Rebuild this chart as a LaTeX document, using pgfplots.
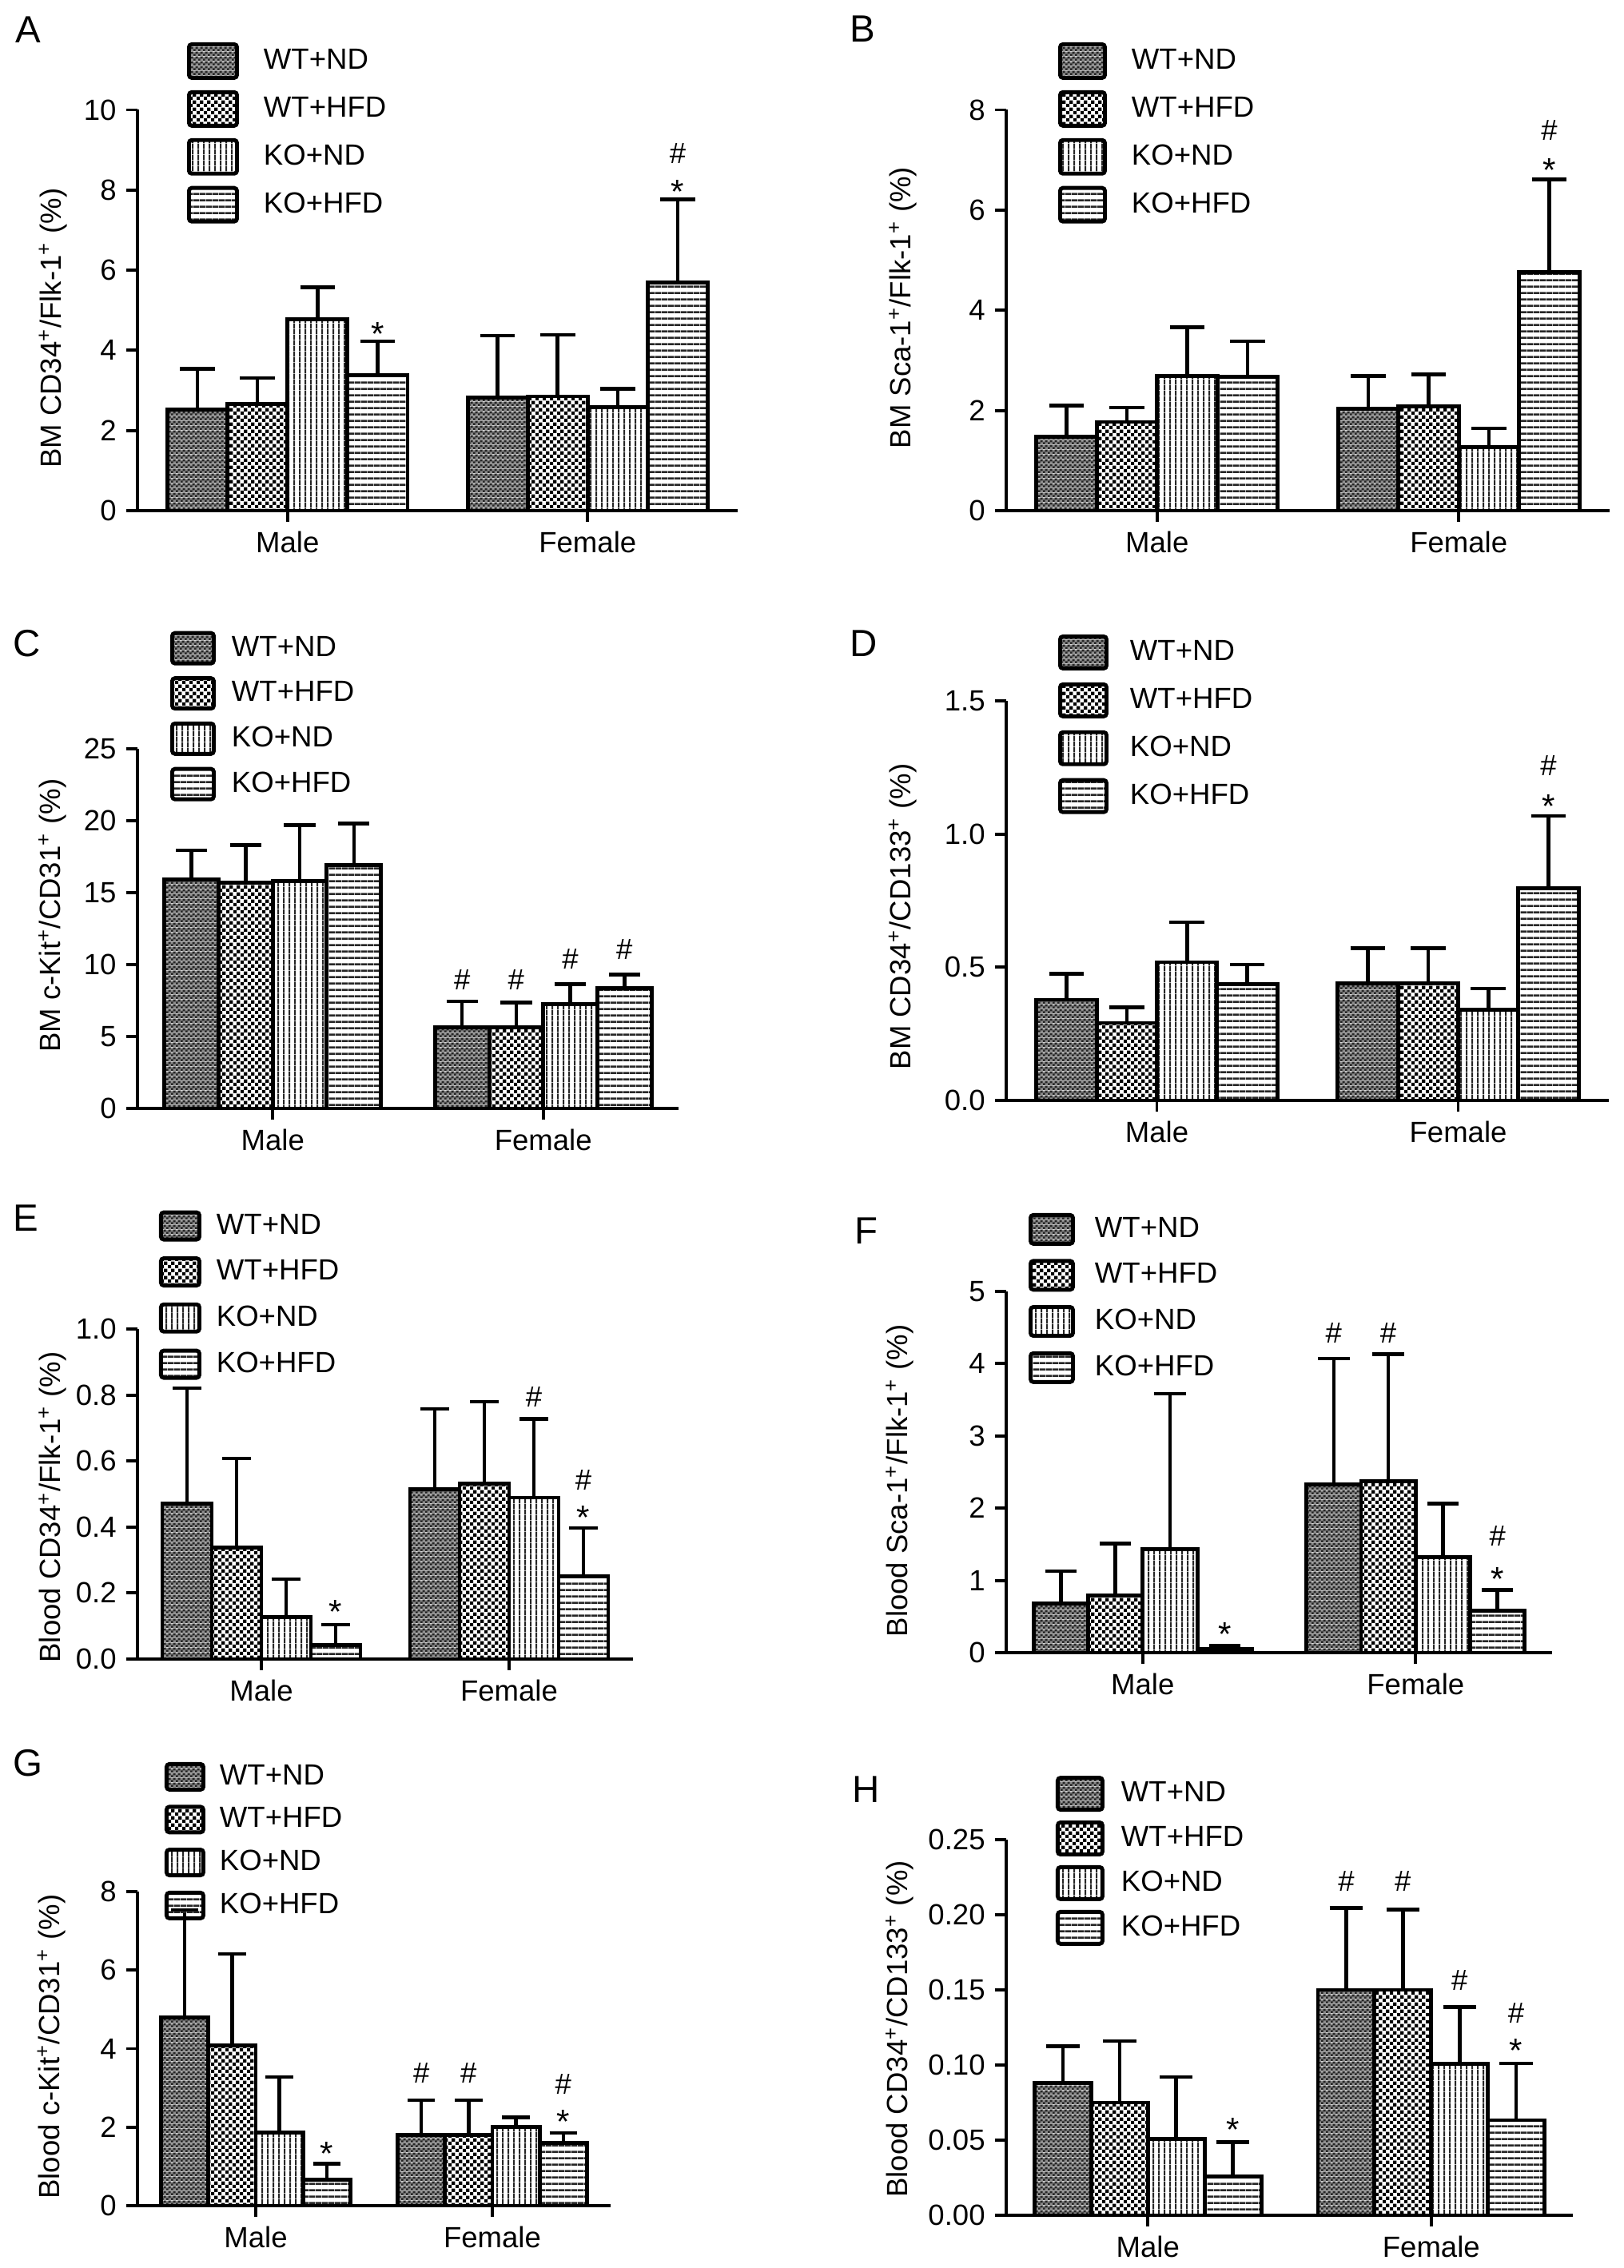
\documentclass[border=0pt]{standalone}
\usepackage{fontspec}
\setmainfont{Liberation Sans}
\usepackage{pgfplots}
\pgfplotsset{compat=1.18}
\usetikzlibrary{patterns}

\newcommand\lbl{\fontsize{10.4}{12}\selectfont}
\newcommand\plet{\fontsize{13.5}{16}\selectfont}

\pgfdeclarepatterninherentlycolored{wtnd}{\pgfpointorigin}{\pgfqpoint{1.6pt}{1.6pt}}{\pgfqpoint{1.6pt}{1.6pt}}{%
  \pgfsetfillcolor{black!45}%
  \pgfpathrectangle{\pgfpointorigin}{\pgfqpoint{1.6pt}{1.6pt}}\pgfusepath{fill}%
  \pgfsetfillcolor{black!85}%
  \pgfpathrectangle{\pgfpointorigin}{\pgfqpoint{0.8pt}{0.8pt}}%
  \pgfpathrectangle{\pgfqpoint{0.8pt}{0.8pt}}{\pgfqpoint{0.8pt}{0.8pt}}\pgfusepath{fill}}
\pgfdeclarepatternformonly{checker}{\pgfpointorigin}{\pgfqpoint{2.6pt}{2.6pt}}{\pgfqpoint{2.6pt}{2.6pt}}{%
  \pgfpathrectangle{\pgfpointorigin}{\pgfqpoint{1.3pt}{1.3pt}}%
  \pgfpathrectangle{\pgfqpoint{1.3pt}{1.3pt}}{\pgfqpoint{1.3pt}{1.3pt}}\pgfusepath{fill}}
\pgfdeclarepatternformonly{vlines}{\pgfpointorigin}{\pgfqpoint{1.9pt}{1.9pt}}{\pgfqpoint{1.9pt}{1.9pt}}{%
  \pgfpathrectangle{\pgfpointorigin}{\pgfqpoint{0.6pt}{1.9pt}}\pgfusepath{fill}}
\pgfdeclarepatternformonly{hlines}{\pgfpointorigin}{\pgfqpoint{2.3pt}{2.3pt}}{\pgfqpoint{2.3pt}{2.3pt}}{%
  \pgfpathrectangle{\pgfpointorigin}{\pgfqpoint{2.3pt}{0.8pt}}\pgfusepath{fill}}

\pgfplotsset{
  panel/.style={
    scale only axis, anchor=south west,
    xmin=-2.5, xmax=7.5, ymin=0,
    axis x line*=bottom, axis y line*=left,
    axis line style={line width=1.1pt},
    every tick/.style={black, line width=1.1pt},
    major tick length=0.14cm, tick align=outside,
    xtick={0,5}, xticklabels={Male,Female},
    tick label style={font=\lbl},
    label style={font=\lbl},
    /pgf/number format/assume math mode=true,
    scaled y ticks=false,
    ybar=0pt,
    clip=false,
    error bars/y dir=plus, error bars/y explicit,
    error bars/error bar style={line width=1.3pt, black},
    error bars/error mark options={rotate=90, line width=1.3pt, black, mark size=#1},
  },
  mylegend/.style n args={6}{%
    legend style={at={(axis description cs:#1,#2)}, anchor=north west,
      draw=none, fill=none, inner sep=0pt, outer sep=0pt,
      row sep=#5, font=\lbl, legend cell align=left,
      /tikz/every odd column/.append style={column sep=#6}},
    legend image code/.code={\draw[##1, line width=1.4pt, rounded corners=1pt] (0cm,-#4/2) rectangle (#3,#4/2);},
  },
  wtnd/.style={draw=black, line width=1.4pt, pattern=wtnd},
  wthfd/.style={draw=black, line width=1.4pt, pattern=checker, pattern color=black},
  kond/.style={draw=black, line width=1.4pt, pattern=vlines, pattern color=black!85},
  kohfd/.style={draw=black, line width=1.4pt, pattern=hlines, pattern color=black!85},
}
\newcommand\astk[2]{\node[anchor=north, inner sep=0pt, font=\fontsize{12}{14}\selectfont] at (axis cs:#1,#2) {*};}
\newcommand\hash[2]{\node[anchor=center, inner sep=0pt, font=\lbl] at (axis cs:#1,#2) {\#};}

\begin{document}
\begin{tikzpicture}
\useasboundingbox (0,0) rectangle (20.31,28.38);

% ---------------- A
\node[anchor=base west, inner sep=0pt, font=\plet] at (0.19,27.84) {A};
\begin{axis}[panel=6.2pt, at={(1.72cm,21.99cm)}, width=7.51cm, height=5.015cm, bar width=0.751cm,
  ymax=10, ytick={0,2,...,10},
  ylabel={BM CD34\textsuperscript{+}/Flk-1\textsuperscript{+} (\%)},
  ylabel style={at={(axis description cs:-0.141,0.455)}, anchor=center},
  mylegend={0.0826}{1.1685}{0.60cm}{0.42cm}{0.13cm}{0.24cm}]
\addplot[wtnd] coordinates {(0,2.53) +- (0,1.01) (5,2.82) +- (0,1.55)};
\addplot[wthfd] coordinates {(0,2.67) +- (0,0.64) (5,2.85) +- (0,1.54)};
\addplot[kond] coordinates {(0,4.78) +- (0,0.79) (5,2.58) +- (0,0.46)};
\addplot[kohfd] coordinates {(0,3.38) +- (0,0.85) (5,5.70) +- (0,2.07)};
\legend{WT+ND,WT+HFD,KO+ND,KO+HFD}
\astk{1.5}{4.71}
\astk{6.5}{8.25}
\hash{6.5}{8.92}
\end{axis}

% ---------------- B
\node[anchor=base west, inner sep=0pt, font=\plet] at (10.63,27.85) {B};
\begin{axis}[panel=6.2pt, at={(12.59cm,21.99cm)}, width=7.55cm, height=5.015cm, bar width=0.755cm,
  ymax=8, ytick={0,2,...,8},
  ylabel={BM Sca-1\textsuperscript{+}/Flk-1\textsuperscript{+} (\%)},
  ylabel style={at={(axis description cs:-0.171,0.506)}, anchor=center},
  mylegend={0.0861}{1.1685}{0.56cm}{0.42cm}{0.13cm}{0.24cm}]
\addplot[wtnd] coordinates {(0,1.47) +- (0,0.63) (5,2.04) +- (0,0.65)};
\addplot[wthfd] coordinates {(0,1.77) +- (0,0.29) (5,2.08) +- (0,0.64)};
\addplot[kond] coordinates {(0,2.69) +- (0,0.97) (5,1.27) +- (0,0.37)};
\addplot[kohfd] coordinates {(0,2.67) +- (0,0.71) (5,4.76) +- (0,1.85)};
\legend{WT+ND,WT+HFD,KO+ND,KO+HFD}
\astk{6.5}{7.04}
\hash{6.5}{7.60}
\end{axis}

% ---------------- C
\node[anchor=base west, inner sep=0pt, font=\plet] at (0.16,20.16) {C};
\begin{axis}[panel=5.6pt, at={(1.72cm,14.51cm)}, width=6.77cm, height=4.50cm, bar width=0.677cm,
  ymax=25, ytick={0,5,...,25},
  ylabel={BM c-Kit\textsuperscript{+}/CD31\textsuperscript{+} (\%)},
  ylabel style={at={(axis description cs:-0.157,0.536)}, anchor=center},
  mylegend={0.0606}{1.329}{0.52cm}{0.38cm}{0.12cm}{0.13cm}]
\addplot[wtnd] coordinates {(0,15.9) +- (0,2.05) (5,5.64) +- (0,1.80)};
\addplot[wthfd] coordinates {(0,15.7) +- (0,2.6) (5,5.64) +- (0,1.72)};
\addplot[kond] coordinates {(0,15.8) +- (0,3.9) (5,7.23) +- (0,1.41)};
\addplot[kohfd] coordinates {(0,16.9) +- (0,2.9) (5,8.38) +- (0,0.93)};
\legend{WT+ND,WT+HFD,KO+ND,KO+HFD}
\hash{3.5}{8.97}
\hash{4.5}{8.97}
\hash{5.5}{10.38}
\hash{6.5}{11.03}
\end{axis}

% ---------------- D
\node[anchor=base west, inner sep=0pt, font=\plet] at (10.63,20.16) {D};
\begin{axis}[panel=6.2pt, at={(12.59cm,14.61cm)}, width=7.54cm, height=5.00cm, bar width=0.754cm,
  ymax=1.5, ytick={0,0.5,1,1.5},
  yticklabel style={/pgf/number format/fixed, /pgf/number format/fixed zerofill, /pgf/number format/precision=1},
  ylabel={BM CD34\textsuperscript{+}/CD133\textsuperscript{+} (\%)},
  ylabel style={at={(axis description cs:-0.172,0.46)}, anchor=center},
  mylegend={0.0862}{1.166}{0.58cm}{0.40cm}{0.15cm}{0.20cm}]
\addplot[wtnd] coordinates {(0,0.378) +- (0,0.097) (5,0.440) +- (0,0.132)};
\addplot[wthfd] coordinates {(0,0.291) +- (0,0.059) (5,0.440) +- (0,0.132)};
\addplot[kond] coordinates {(0,0.519) +- (0,0.150) (5,0.341) +- (0,0.079)};
\addplot[kohfd] coordinates {(0,0.436) +- (0,0.074) (5,0.796) +- (0,0.272)};
\legend{WT+ND,WT+HFD,KO+ND,KO+HFD}
\astk{6.5}{1.151}
\hash{6.5}{1.258}
\end{axis}

% ---------------- E
\node[anchor=base west, inner sep=0pt, font=\plet] at (0.16,12.97) {E};
\begin{axis}[panel=5.1pt, at={(1.72cm,7.62cm)}, width=6.20cm, height=4.13cm, bar width=0.620cm,
  ymax=1.0, ytick={0,0.2,...,1.0},
  yticklabel style={/pgf/number format/fixed, /pgf/number format/fixed zerofill, /pgf/number format/precision=1},
  ylabel={Blood CD34\textsuperscript{+}/Flk-1\textsuperscript{+} (\%)},
  ylabel style={at={(axis description cs:-0.171,0.46)}, anchor=center},
  mylegend={0.0435}{1.366}{0.48cm}{0.34cm}{0.13cm}{0.12cm}]
\addplot[wtnd] coordinates {(0,0.470) +- (0,0.351) (5,0.514) +- (0,0.244)};
\addplot[wthfd] coordinates {(0,0.337) +- (0,0.271) (5,0.532) +- (0,0.248)};
\addplot[kond] coordinates {(0,0.126) +- (0,0.116) (5,0.489) +- (0,0.238)};
\addplot[kohfd] coordinates {(0,0.043) +- (0,0.061) (5,0.250) +- (0,0.147)};
\legend{WT+ND,WT+HFD,KO+ND,KO+HFD}
\astk{1.5}{0.179}
\hash{5.5}{0.793}
\hash{6.5}{0.543}
\astk{6.5}{0.465}
\end{axis}

% ---------------- F
\node[anchor=base west, inner sep=0pt, font=\plet] at (10.69,12.81) {F};
\begin{axis}[panel=5.6pt, at={(12.59cm,7.70cm)}, width=6.83cm, height=4.52cm, bar width=0.683cm,
  ymax=5, ytick={0,1,...,5},
  ylabel={Blood Sca-1\textsuperscript{+}/Flk-1\textsuperscript{+} (\%)},
  ylabel style={at={(axis description cs:-0.195,0.476)}, anchor=center},
  mylegend={0.041}{1.221}{0.53cm}{0.36cm}{0.13cm}{0.18cm}]
\addplot[wtnd] coordinates {(0,0.685) +- (0,0.445) (5,2.33) +- (0,1.74)};
\addplot[wthfd] coordinates {(0,0.794) +- (0,0.716) (5,2.37) +- (0,1.76)};
\addplot[kond] coordinates {(0,1.43) +- (0,2.155) (5,1.32) +- (0,0.74)};
\addplot[kohfd] coordinates {(0,0.05) +- (0,0.05) (5,0.58) +- (0,0.29)};
\legend{WT+ND,WT+HFD,KO+ND,KO+HFD}
\astk{1.5}{0.42}
\hash{3.5}{4.42}
\hash{4.5}{4.42}
\hash{6.5}{1.61}
\astk{6.5}{1.19}
\end{axis}

% ---------------- G
\node[anchor=base west, inner sep=0pt, font=\plet] at (0.16,6.15) {G};
\begin{axis}[panel=4.9pt, at={(1.72cm,0.78cm)}, width=5.92cm, height=3.93cm, bar width=0.592cm,
  ymax=8, ytick={0,2,...,8},
  ylabel={Blood c-Kit\textsuperscript{+}/CD31\textsuperscript{+} (\%)},
  ylabel style={at={(axis description cs:-0.182,0.506)}, anchor=center},
  mylegend={0.0574}{1.422}{0.46cm}{0.32cm}{0.09cm}{0.11cm}]
\addplot[wtnd] coordinates {(0,4.79) +- (0,2.74) (5,1.80) +- (0,0.89)};
\addplot[wthfd] coordinates {(0,4.09) +- (0,2.32) (5,1.80) +- (0,0.89)};
\addplot[kond] coordinates {(0,1.87) +- (0,1.41) (5,2.01) +- (0,0.24)};
\addplot[kohfd] coordinates {(0,0.67) +- (0,0.40) (5,1.60) +- (0,0.25)};
\legend{WT+ND,WT+HFD,KO+ND,KO+HFD}
\astk{1.5}{1.64}
\hash{3.5}{3.38}
\hash{4.5}{3.38}
\hash{6.5}{3.10}
\astk{6.5}{2.44}
\end{axis}

% ---------------- H
\node[anchor=base west, inner sep=0pt, font=\plet] at (10.66,5.82) {H};
\begin{axis}[panel=5.9pt, at={(12.59cm,0.66cm)}, width=7.09cm, height=4.70cm, bar width=0.709cm,
  ymax=0.25, ytick={0,0.05,...,0.25},
  yticklabel style={/pgf/number format/fixed, /pgf/number format/fixed zerofill, /pgf/number format/precision=2},
  ylabel={Blood CD34\textsuperscript{+}/CD133\textsuperscript{+} (\%)},
  ylabel style={at={(axis description cs:-0.188,0.496)}, anchor=center},
  mylegend={0.0874}{1.170}{0.56cm}{0.40cm}{0.11cm}{0.14cm}]
\addplot[wtnd] coordinates {(0,0.088) +- (0,0.0245) (5,0.150) +- (0,0.0546)};
\addplot[wthfd] coordinates {(0,0.075) +- (0,0.041) (5,0.150) +- (0,0.0536)};
\addplot[kond] coordinates {(0,0.051) +- (0,0.041) (5,0.101) +- (0,0.0377)};
\addplot[kohfd] coordinates {(0,0.0257) +- (0,0.0231) (5,0.0633) +- (0,0.0377)};
\legend{WT+ND,WT+HFD,KO+ND,KO+HFD}
\astk{1.5}{0.065}
\hash{3.5}{0.2224}
\hash{4.5}{0.2224}
\hash{5.5}{0.1565}
\hash{6.5}{0.1344}
\astk{6.5}{0.1177}
\end{axis}
\end{tikzpicture}
\end{document}
